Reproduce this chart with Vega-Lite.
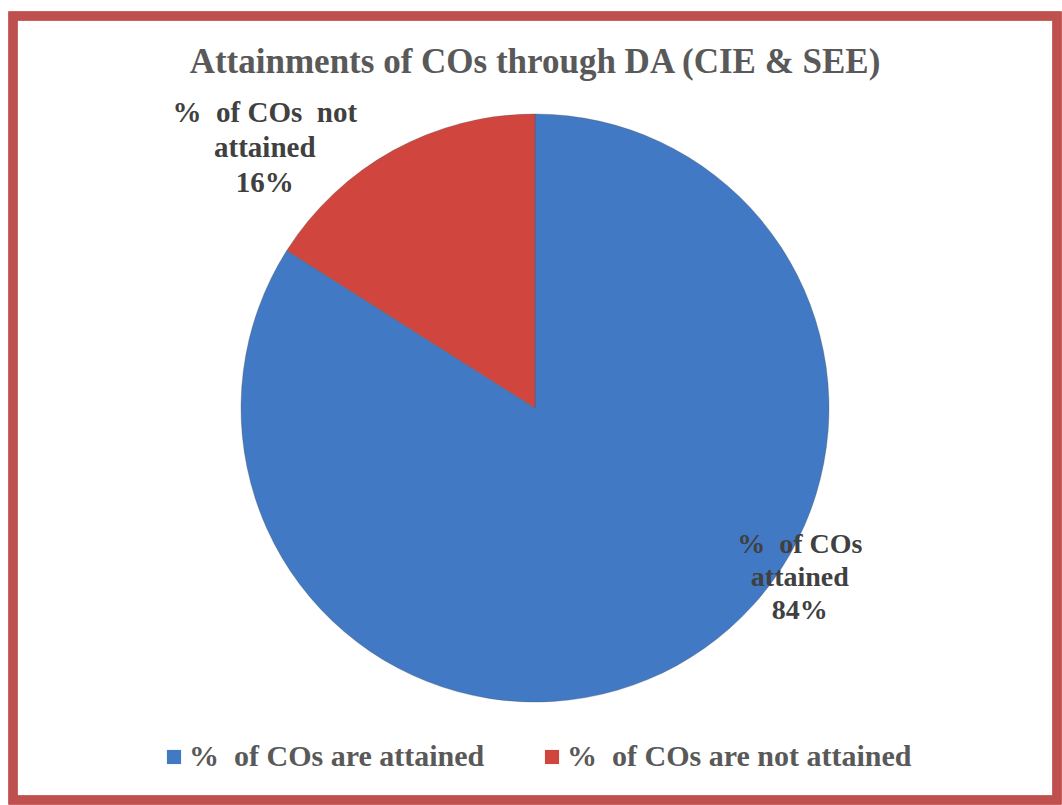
{
  "$schema": "https://vega.github.io/schema/vega-lite/v6.json",
  "width": 1062,
  "height": 805,
  "autosize": {"type": "fit", "contains": "padding"},
  "padding": {"left": 8, "top": 11, "right": 0, "bottom": 0},
  "background": "white",
  "view": {"stroke": "#C0504D", "strokeWidth": 9, "fill": "white"},
  "title": {
    "text": "Attainments of COs through DA (CIE & SEE)",
    "offset": -68,
    "font": "Liberation Serif",
    "fontSize": 35,
    "fontWeight": "bold",
    "color": "#595959",
    "anchor": "middle"
  },
  "data": {
    "values": [
      {"category": "%  of COs are attained", "value": 84, "label": "%\u00a0\u00a0of COs\nattained\n84%"},
      {"category": "%  of COs are not attained", "value": 16, "label": "%\u00a0\u00a0of COs\u00a0\u00a0not\nattained\n16%"}
    ]
  },
  "encoding": {
    "theta": {"field": "value", "type": "quantitative", "stack": true}
  },
  "layer": [
    {
      "mark": {"type": "rect", "fill": null, "stroke": "#C0504D", "strokeWidth": 9},
      "encoding": {}
    },
    {
      "mark": {"type": "arc", "outerRadius": 294, "stroke": "#4a4a4a", "strokeWidth": 0.6, "strokeOpacity": 0.5},
      "encoding": {
        "color": {
          "field": "category",
          "type": "nominal",
          "scale": {"domain": ["%  of COs are attained", "%  of COs are not attained"], "range": ["#4279C4", "#D0463F"]},
          "legend": {
            "orient": "none",
            "legendX": 146,
            "legendY": 726,
            "direction": "horizontal",
            "title": null,
            "padding": 0,
            "symbolType": "square",
            "symbolSize": 200,
            "symbolStrokeWidth": 0,
            "labelFont": "Liberation Serif",
            "labelFontSize": 30,
            "labelFontWeight": "bold",
            "labelColor": "#595959",
            "labelLimit": 0,
            "labelOffset": 0,
            "labelExpr": "replace(datum.label, /  /g, '\u00a0\u00a0')",
            "columnPadding": 52
          }
        }
      }
    },
    {
      "mark": {"type": "text", "radius": 298, "thetaOffset": -0.592, "font": "Liberation Serif", "fontSize": 28, "fontWeight": "bold", "color": "#404040", "lineBreak": "\n", "lineHeight": 33, "baseline": "middle", "align": "center"},
      "encoding": {
        "detail": {"field": "category"},
        "text": {"condition": {"test": "datum.value === 84", "field": "label"}, "value": ""}
      }
    },
    {
      "mark": {"type": "text", "radius": 400, "thetaOffset": -0.239, "font": "Liberation Serif", "fontSize": 29, "fontWeight": "bold", "color": "#404040", "lineBreak": "\n", "lineHeight": 35, "baseline": "middle", "align": "center"},
      "encoding": {
        "detail": {"field": "category"},
        "text": {"condition": {"test": "datum.value === 16", "field": "label"}, "value": ""}
      }
    }
  ]
}
